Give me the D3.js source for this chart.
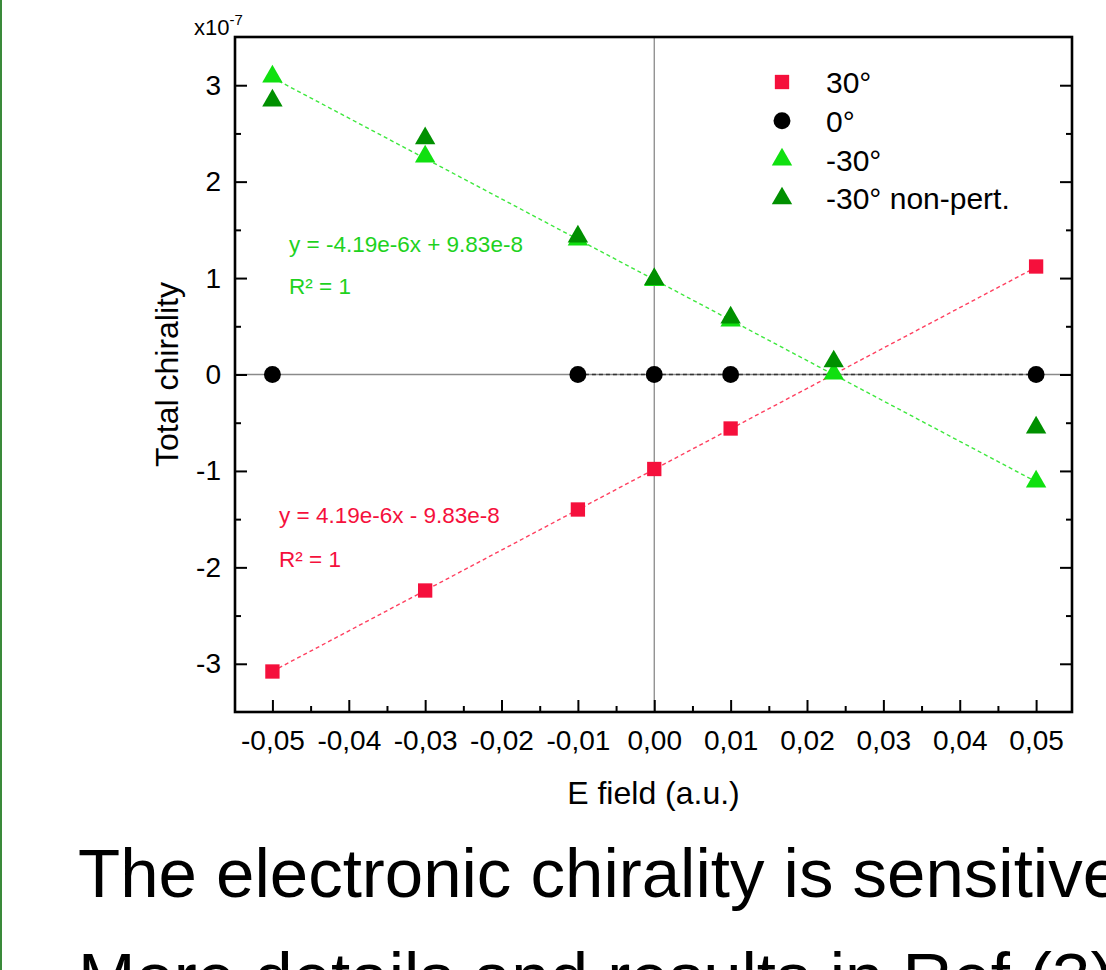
<!DOCTYPE html>
<html>
<head>
<meta charset="utf-8">
<script src="https://cdn.jsdelivr.net/npm/d3@7"></script>
<style>
  body { margin: 0; background: #fff; overflow: hidden; }
  svg { display: block; font-family: Arial, "Liberation Sans", Helvetica, sans-serif; }
  .axis path { display: none; }
  .axis line { stroke: #000; stroke-width: 2; }
  .axis text { font-size: 28px; fill: #000; }
</style>
</head>
<body>
<div id="chart"></div>
<script>
// E field values (a.u.) and total chirality (x1e-7) per series
var field30 = [-0.05, -0.03, -0.01, 0, 0.01, 0.05];
var chir30 = [-3.08, -2.24, -1.40, -0.98, -0.56, 1.12];

var field0 = [-0.05, -0.01, 0, 0.01, 0.05];
var chir0 = [0, 0, 0, 0, 0];

var fieldM30 = [-0.05, -0.03, -0.01, 0, 0.01, 0.0235, 0.05];
var chirM30 = [3.09, 2.26, 1.40, 0.98, 0.56, 0.01, -1.11];
var chirM30np = [2.84, 2.45, 1.43, 0.99, 0.59, 0.135, -0.55];

// fitted lines (end points)
var fit30X = [-0.05, 0.05], fit30Y = [-3.078, 1.112];
var fitM30X = [-0.05, 0.05], fitM30Y = [3.078, -1.112];
var fit0X = [-0.01, 0.05], fit0Y = [0, 0];

var xTicks = [-0.05, -0.04, -0.03, -0.02, -0.01, 0, 0.01, 0.02, 0.03, 0.04, 0.05];
var xMinor = [-0.045, -0.035, -0.025, -0.015, -0.005, 0.005, 0.015, 0.025, 0.035, 0.045];
var yTicks = [-3, -2, -1, 0, 1, 2, 3];
var yMinor = [-2.5, -1.5, -0.5, 0.5, 1.5, 2.5];

var legendLabels = ["30°", "0°", "-30°", "-30° non-pert."];

var red = "#f5103c", black = "#000", lightGreen = "#10e010", darkGreen = "#009000";

var W = 1106, H = 970;
var margin = {top: 37, left: 235, right: 34, bottom: 258};

var svg = d3.select("#chart").append("svg")
    .attr("width", W)
    .attr("height", H);

// green slide edge on the left
svg.append("rect").attr("x", 0).attr("y", 0).attr("width", 2).attr("height", H).attr("fill", "#3a8a3a");

var xScale = d3.scaleLinear().domain([-0.0549, 0.0547]).range([margin.left, W - margin.right]);
var yScale = d3.scaleLinear().domain([-3.5, 3.5]).range([H - margin.bottom, margin.top]);

var loc = d3.formatLocale({decimal: ",", thousands: ".", grouping: [3], currency: ["", ""], minus: "-"});
var fmtX = loc.format(".2f");
var fmtY = loc.format("d");

var x0 = xScale.range()[0], x1 = xScale.range()[1];
var y0 = yScale.range()[0], y1 = yScale.range()[1];

// zero reference lines
svg.append("line")
    .attr("x1", x0).attr("x2", x1)
    .attr("y1", yScale(0)).attr("y2", yScale(0))
    .attr("stroke", "#8a8a8a").attr("stroke-width", 1.3);
svg.append("line")
    .attr("x1", xScale(0)).attr("x2", xScale(0))
    .attr("y1", y0).attr("y2", y1)
    .attr("stroke", "#8a8a8a").attr("stroke-width", 1.3);

// axes, ticks pointing inward
svg.append("g").attr("class", "axis")
    .attr("transform", "translate(0," + y0 + ")")
    .call(d3.axisBottom(xScale).tickValues(xTicks).tickSize(-12).tickPadding(18).tickFormat(fmtX));
svg.append("g").attr("class", "axis")
    .attr("transform", "translate(0," + y0 + ")")
    .call(d3.axisBottom(xScale).tickValues(xMinor).tickSize(-6).tickFormat(""));

svg.append("g").attr("class", "axis")
    .attr("transform", "translate(" + x0 + ",0)")
    .call(d3.axisLeft(yScale).tickValues(yTicks).tickSize(-12).tickPadding(14).tickFormat(fmtY));
svg.append("g").attr("class", "axis")
    .attr("transform", "translate(" + x0 + ",0)")
    .call(d3.axisLeft(yScale).tickValues(yMinor).tickSize(-6).tickFormat(""));

svg.append("g").attr("class", "axis")
    .attr("transform", "translate(" + x1 + ",0)")
    .call(d3.axisRight(yScale).tickValues(yTicks).tickSize(-12).tickFormat(""));
svg.append("g").attr("class", "axis")
    .attr("transform", "translate(" + x1 + ",0)")
    .call(d3.axisRight(yScale).tickValues(yMinor).tickSize(-6).tickFormat(""));

// frame
svg.append("rect")
    .attr("x", x0).attr("y", y1)
    .attr("width", x1 - x0).attr("height", y0 - y1)
    .attr("fill", "none").attr("stroke", "#000").attr("stroke-width", 2.6);

// fit lines
var line = d3.line().x(function(d) { return xScale(d[0]); }).y(function(d) { return yScale(d[1]); });
function fitLine(xs, ys, color) {
  svg.append("path")
    .datum(d3.zip(xs, ys))
    .attr("d", line)
    .attr("fill", "none")
    .attr("stroke", color)
    .attr("stroke-width", 1.4)
    .attr("stroke-dasharray", "4,3");
}
fitLine(fit0X, fit0Y, "#333");
fitLine(fit30X, fit30Y, "#ff4060");
fitLine(fitM30X, fitM30Y, "#3ee83e");

// markers
var symSquare = d3.symbol().type(d3.symbolSquare).size(205);
var symCircle = d3.symbol().type(d3.symbolCircle).size(225);
var symTri = d3.symbol().type(d3.symbolTriangle).size(180);

function points(xs, ys, sym, color) {
  svg.append("g").selectAll("path")
    .data(d3.zip(xs, ys))
    .enter().append("path")
    .attr("d", sym)
    .attr("fill", color)
    .attr("transform", function(d) { return "translate(" + xScale(d[0]) + "," + yScale(d[1]) + ")"; });
}
points(field30, chir30, symSquare, red);
points(field0, chir0, symCircle, black);
points(fieldM30, chirM30, symTri, lightGreen);
points(fieldM30, chirM30np, symTri, darkGreen);

// fit annotations
var ann = svg.append("g").style("font-size", "22.5px");
ann.append("text").attr("x", 289).attr("y", 252).attr("fill", "#1ed21e").text("y = -4.19e-6x + 9.83e-8");
ann.append("text").attr("x", 289).attr("y", 294).attr("fill", "#1ed21e").text("R² = 1");
ann.append("text").attr("x", 279).attr("y", 523).attr("fill", red).text("y = 4.19e-6x - 9.83e-8");
ann.append("text").attr("x", 279).attr("y", 567).attr("fill", red).text("R² = 1");

// legend
var legSyms = [symSquare, symCircle, symTri, symTri];
var legColors = [red, black, lightGreen, darkGreen];
var leg = svg.append("g").attr("transform", "translate(782,82)");
legendLabels.forEach(function(lbl, i) {
  var g = leg.append("g").attr("transform", "translate(0," + (i * 38.8) + ")");
  g.append("path").attr("d", legSyms[i]).attr("fill", legColors[i]);
  g.append("text").attr("x", 44).attr("y", 11).style("font-size", "30px").text(lbl);
});

// axis titles
svg.append("text")
    .attr("x", (x0 + x1) / 2).attr("y", 804)
    .attr("text-anchor", "middle")
    .style("font-size", "32px")
    .text("E field (a.u.)");
svg.append("text")
    .attr("transform", "translate(178," + yScale(0) + ") rotate(-90)")
    .attr("text-anchor", "middle")
    .style("font-size", "32px")
    .text("Total chirality");

// exponent label
var ex = svg.append("text").attr("x", 194).attr("y", 35).style("font-size", "22px");
ex.append("tspan").text("x10");
ex.append("tspan").attr("dy", -10).style("font-size", "15px").text("-7");

// slide text below the chart
svg.append("text").attr("x", 78).attr("y", 897).style("font-size", "69px").text("The electronic chirality is sensitive");
svg.append("text").attr("x", 78).attr("y", 1001).style("font-size", "69px").text("More details and results in Ref (3)");
</script>
</body>
</html>
